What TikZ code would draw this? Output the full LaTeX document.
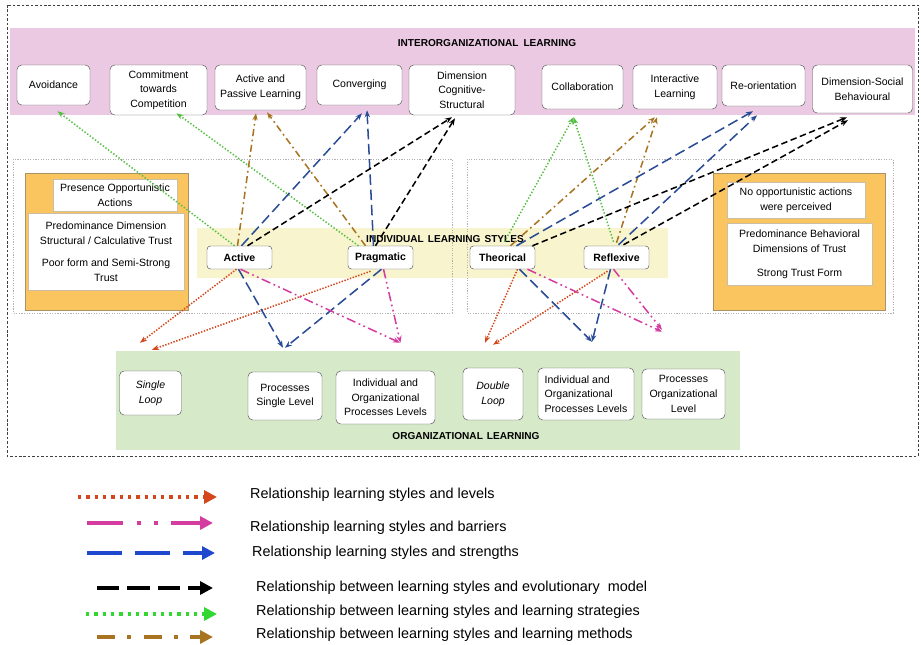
\documentclass[tikz,border=0pt]{standalone}
\usepackage{fontspec}
\setmainfont{Liberation Sans}
\usetikzlibrary{arrows.meta}
\newlength{\pxu}
\setlength{\pxu}{0.3mm}
\definecolor{lvlred}{RGB}{212,70,28}
\definecolor{barmag}{RGB}{212,60,160}
\definecolor{strblue}{RGB}{42,76,150}
\definecolor{keyblue}{RGB}{30,72,205}
\definecolor{stratgreen}{RGB}{85,190,65}
\definecolor{keygreen}{RGB}{50,215,50}
\definecolor{methbrown}{RGB}{168,116,34}
\definecolor{bandpink}{RGB}{235,201,227}
\definecolor{bandyellow}{RGB}{247,244,206}
\definecolor{bandgreen}{RGB}{214,233,201}
\definecolor{trustorange}{RGB}{250,196,95}
\definecolor{trustedge}{RGB}{168,146,108}

\tikzset{
    outerline/.style={draw=gray!50!black, line width=0.6pt, dash pattern=on 2.2pt off 1.6pt},
    dotbox/.style={draw=gray!60, line width=0.7pt, dash pattern=on 1pt off 1.2pt},
    band/.style={inner sep=0pt},
    bandtitle/.style={font=\bfseries\fontsize{8.6}{10}\selectfont, inner sep=0pt},
    box/.style={draw=gray!65!black, fill=white, rounded corners=4pt, align=center, inner sep=1pt,
        font=\fontsize{9}{12.5}\selectfont},
    stylebox/.style={draw=gray!65!black, fill=white, rounded corners=3pt, inner sep=1pt,
        font=\bfseries\fontsize{9}{10}\selectfont, minimum width=65\pxu, minimum height=23\pxu},
    trustbox/.style={fill=trustorange, draw=trustedge, line width=0.8pt},
    trusttext/.style={fill=white, draw=trustedge!60, align=center, inner sep=1pt,
        font=\fontsize{9}{12.8}\selectfont},
    rel/.style={line width=1.3pt, -{Stealth[length=6pt,width=4.5pt]}},
    levels/.style={rel, lvlred, dash pattern=on 1.2pt off 1.3pt},
    barriers/.style={rel, barmag, dash pattern=on 8pt off 3pt on 1.5pt off 3pt on 1.5pt off 3pt},
    strengths/.style={rel, strblue, dash pattern=on 9pt off 4pt},
    evolution/.style={rel, black, dash pattern=on 5.5pt off 3pt},
    strategies/.style={rel, stratgreen, dash pattern=on 1.2pt off 1.6pt},
    methods/.style={rel, methbrown, dash pattern=on 6pt off 3pt on 1.5pt off 3pt},
    keyline/.style={line width=3.4pt, -{Triangle[length=11pt,width=11pt]}},
    lvlkey/.style={keyline, lvlred, dash pattern=on 2.8pt off 4.3pt},
    barkey/.style={keyline, barmag, dash pattern=on 31pt off 12pt on 3.4pt off 11pt on 3.4pt off 11pt},
    strkey/.style={keyline, keyblue, dash pattern=on 30pt off 11pt},
    evokey/.style={keyline, black, dash pattern=on 19pt off 7pt},
    stratkey/.style={keyline, keygreen, dash pattern=on 2.8pt off 4.3pt},
    methkey/.style={keyline, methbrown, dash pattern=on 15.5pt off 10.5pt on 3.4pt off 10.5pt},
    keytext/.style={anchor=west, inner sep=0pt, font=\fontsize{12.3}{14}\selectfont}
}

\begin{document}
\begin{tikzpicture}[x=0.3mm, y=-0.3mm]
    \useasboundingbox (0,0) rectangle (921,645);
    \draw[outerline] (7,5) rectangle (918,456);

    \node[band, fill=bandpink, minimum width=905\pxu, minimum height=87\pxu] (inter) at (462.5,71.5) {};
    \node[bandtitle] (interlbl) at (487,43) {INTERORGANIZATIONAL\hspace{0.5em}LEARNING};
    \node[band, fill=bandyellow, minimum width=471\pxu, minimum height=50\pxu] (indiv) at (432.5,253) {};
    \draw[dotbox] (13,159) rectangle (452,313);
    \draw[dotbox] (467,159) rectangle (893,313);
    \node[bandtitle] (indivlbl) at (445,239) {INDIVIDUAL\hspace{0.4em}LEARNING\hspace{0.4em}STYLES};
    \node[band, fill=bandgreen, minimum width=624\pxu, minimum height=99\pxu] (org) at (428,400.5) {};
    \node[bandtitle] (orglbl) at (466,436) {ORGANIZATIONAL\hspace{0.4em}LEARNING};

    \node[trustbox, minimum width=163\pxu, minimum height=137\pxu] (trustl) at (106.5,241.5) {};
    \node[trusttext, minimum width=124\pxu, minimum height=32\pxu] (opport) at (115,195) {Presence Opportunistic\\Actions};
    \node[trusttext, minimum width=156\pxu, minimum height=77\pxu] (calc) at (106,251.5)
        {Predominance Dimension\\Structural / Calculative Trust\\[6pt]Poor form and Semi-Strong\\Trust};
    \node[trustbox, minimum width=172\pxu, minimum height=137\pxu] (trustr) at (799,241.5) {};
    \node[trusttext, minimum width=138\pxu, minimum height=36\pxu] (noopport) at (796,200) {No opportunistic actions\\were perceived};
    \node[trusttext, minimum width=145\pxu, minimum height=62\pxu] (behav) at (799.5,254)
        {Predominance Behavioral\\Dimensions of Trust\\[8pt]Strong Trust Form};

    \node[box, minimum width=73\pxu, minimum height=40\pxu] (avoid) at (53.5,85) {Avoidance};
    \node[box, minimum width=97\pxu, minimum height=50\pxu] (commit) at (158.5,90) {Commitment\\towards\\Competition};
    \node[box, minimum width=91\pxu, minimum height=45\pxu] (actpas) at (260.5,87.5) {Active and\\Passive Learning};
    \node[box, minimum width=85\pxu, minimum height=40\pxu] (conv) at (359.5,85) {Converging};
    \node[box, minimum width=106\pxu, minimum height=50\pxu] (dimcog) at (462,90) {Dimension\\Cognitive-\\Structural};
    \node[box, minimum width=81\pxu, minimum height=44\pxu] (collab) at (582.5,87) {Collaboration};
    \node[box, minimum width=84\pxu, minimum height=44\pxu] (interact) at (675,87) {Interactive\\Learning};
    \node[box, minimum width=83\pxu, minimum height=41\pxu] (reorient) at (763.5,85.5) {Re-orientation};
    \node[box, minimum width=100\pxu, minimum height=48\pxu] (dimsoc) at (862.5,89) {Dimension-Social\\Behavioural};

    \node[stylebox] (act) at (239.5,257.5) {Active};
    \node[stylebox] (prag) at (380.5,257.5) {Pragmatic};
    \node[stylebox] (theo) at (502.5,257.5) {Theorical};
    \node[stylebox] (refl) at (616.5,257.5) {Reflexive};

    \node[box, minimum width=62\pxu, minimum height=44\pxu] (sing) at (150.5,393) {\textit{Single}\\\textit{Loop}};
    \node[box, minimum width=74\pxu, minimum height=48\pxu] (procsing) at (285,396) {Processes\\Single Level};
    \node[box, minimum width=99\pxu, minimum height=53\pxu] (indorg) at (385.5,397.5) {Individual and\\Organizational\\Processes Levels};
    \node[box, minimum width=60\pxu, minimum height=52\pxu] (doub) at (493,394) {\textit{Double}\\\textit{Loop}};
    \node[box, align=left, minimum width=96\pxu, minimum height=52\pxu] (indorgb) at (586,394) {Individual and\\Organizational\\Processes Levels};
    \node[box, minimum width=83\pxu, minimum height=50\pxu] (procorg) at (683.5,394) {Processes\\Organizational\\Level};

    \draw[strategies] ([shift={(-5,0)}]act.north) -- ([shift={(4,6)}]avoid.south);
    \draw[strategies] ([shift={(-22,0)}]prag.north) -- ([shift={(18,-2)}]commit.south);
    \draw[strategies] ([shift={(2,-4)}]theo.north) -- ([shift={(-9,8)}]collab.south);
    \draw[strategies] ([shift={(-3,-4)}]refl.north) -- ([shift={(-9,8)}]collab.south);

    \draw[methods] ([shift={(-2,0)}]act.north) -- ([shift={(-4.5,3)}]actpas.south);
    \draw[methods] ([shift={(-15,0)}]prag.north) -- ([shift={(6.5,2)}]actpas.south);
    \draw[methods] ([shift={(8,0)}]theo.north) -- ([shift={(-20,8)}]interact.south);
    \draw[methods] ([shift={(0,-3)}]refl.north) -- ([shift={(-18,8)}]interact.south);

    \draw[strengths] ([shift={(2,0)}]act.north) -- ([shift={(2.5,8)}]conv.south);
    \draw[strengths] ([shift={(-7,0)}]prag.north) -- ([shift={(7.5,5)}]conv.south);
    \draw[strengths] ([shift={(14,0)}]theo.north) -- ([shift={(-10.5,5)}]reorient.south);
    \draw[strengths] ([shift={(2,-1)}]refl.north) -- ([shift={(-6.5,9)}]reorient.south);

    \draw[evolution] ([shift={(8,0)}]act.north) -- ([shift={(-10,2)}]dimcog.south);
    \draw[evolution] ([shift={(-5,0)}]prag.north) -- ([shift={(-7,3)}]dimcog.south);
    \draw[evolution] ([shift={(30,0)}]theo.north) -- ([shift={(-15.5,4)}]dimsoc.south);
    \draw[evolution] ([shift={(7,-1)}]refl.north) -- ([shift={(-14.5,7)}]dimsoc.south);

    \draw[levels] ([shift={(-3,0)}]act.south) -- ([shift={(-10.5,-28)}]sing.north);
    \draw[levels] ([shift={(-10,2)}]prag.south) -- ([shift={(1.5,-21)}]sing.north);
    \draw[levels] ([shift={(15,0)}]theo.south) -- ([shift={(-8,-25)}]doub.north);
    \draw[levels] ([shift={(-9,2)}]refl.south) -- ([shift={(0,-23)}]doub.north);

    \draw[strengths] ([shift={(-1,0)}]act.south) -- ([shift={(-2,-24)}]procsing.north);
    \draw[strengths] ([shift={(1,0)}]prag.south) -- ([shift={(0,-24)}]procsing.north);
    \draw[strengths] ([shift={(17,0)}]theo.south) -- ([shift={(6,-26)}]indorgb.north);
    \draw[strengths] ([shift={(-6,0)}]refl.south) -- ([shift={(6,-26)}]indorgb.north);

    \draw[barriers] ([shift={(1,0)}]act.south) -- ([shift={(14.5,-28)}]indorg.north);
    \draw[barriers] ([shift={(3,0)}]prag.south) -- ([shift={(15,-28)}]indorg.north);
    \draw[barriers] ([shift={(25,0)}]theo.south) -- ([shift={(-21.5,-37)}]procorg.north);
    \draw[barriers] ([shift={(-3,0)}]refl.south) -- ([shift={(-21.5,-39)}]procorg.north);

    \coordinate (lvla) at (78,497);
    \coordinate (lvlb) at (217,497);
    \coordinate (bara) at (87,523);
    \coordinate (barb) at (213,523);
    \coordinate (stra) at (87,553);
    \coordinate (strb) at (215,553);
    \coordinate (evoa) at (97,588);
    \coordinate (evob) at (213,588);
    \coordinate (strata) at (86,614);
    \coordinate (stratb) at (217,614);
    \coordinate (metha) at (97,637);
    \coordinate (methb) at (213,637);
    \draw[lvlkey] (lvla) -- (lvlb);
    \draw[barkey] (bara) -- (barb);
    \draw[strkey] (stra) -- (strb);
    \draw[evokey] (evoa) -- (evob);
    \draw[stratkey] (strata) -- (stratb);
    \draw[methkey] (metha) -- (methb);
    \node[keytext] (keylvl) at (250,495) {Relationship learning styles and levels};
    \node[keytext] (keybar) at (250,528) {Relationship learning styles and barriers};
    \node[keytext] (keystr) at (252,553) {Relationship learning styles and strengths};
    \node[keytext] (keyevo) at (256,588) {Relationship between learning styles and evolutionary\ \ model};
    \node[keytext] (keystrat) at (256,612) {Relationship between learning styles and learning strategies};
    \node[keytext] (keymeth) at (256,635) {Relationship between learning styles and learning methods};
\end{tikzpicture}
\end{document}
